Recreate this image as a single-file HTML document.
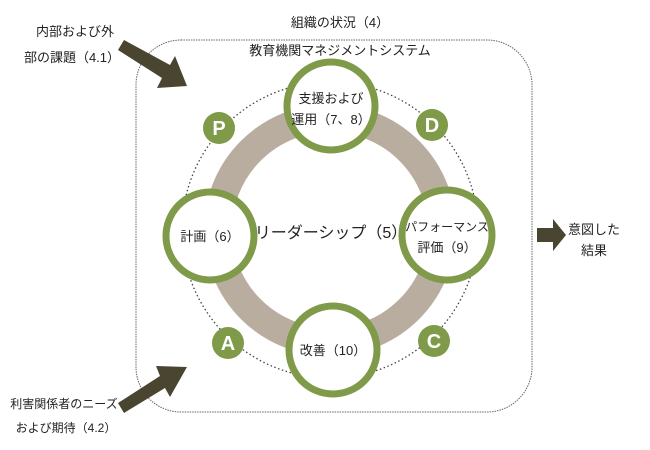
<!DOCTYPE html>
<html><head><meta charset="utf-8"><style>
body{margin:0;background:#fff;}
svg{display:block;}
text{font-family:"Liberation Sans","Noto Sans CJK JP",sans-serif;fill:#222;}
</style></head><body>
<svg width="650" height="450" viewBox="0 0 650 450">
<rect x="136" y="40" width="396" height="372" rx="45" fill="none" stroke="#666" stroke-width="1" stroke-dasharray="1.5,1"/>
<text x="340" y="27" font-size="13" text-anchor="middle">組織の状況（4）</text>
<text x="340" y="55" font-size="13" text-anchor="middle">教育機関マネジメントシステム</text>
<circle cx="330" cy="230" r="148" fill="none" stroke="#444" stroke-width="1.3" stroke-dasharray="1.5,2.5"/>
<circle cx="330" cy="230" r="112" fill="none" stroke="#b9ad9f" stroke-width="28"/>
<g fill="#fff" stroke="#7f9a48" stroke-width="7">
<circle cx="331" cy="106" r="44"/>
<circle cx="210" cy="236" r="44"/>
<circle cx="447" cy="235" r="45"/>
<circle cx="333" cy="350" r="44"/>
</g>
<g fill="#7f9a48">
<circle cx="219" cy="128" r="16"/>
<circle cx="432" cy="125" r="16"/>
<circle cx="228" cy="343" r="16"/>
<circle cx="434" cy="341" r="16"/>
</g>
<g font-size="20" font-weight="bold" text-anchor="middle">
<text x="219" y="135" style="fill:#fff">P</text>
<text x="432" y="132" style="fill:#fff">D</text>
<text x="228" y="350" style="fill:#fff">A</text>
<text x="434" y="348" style="fill:#fff">C</text>
</g>
<g font-size="13" text-anchor="middle">
<text x="331" y="103">支援および</text>
<text x="331" y="124">運用（7、8）</text>
<text x="210" y="241">計画（6）</text>
<text x="447" y="231" font-size="12">パフォーマンス</text>
<text x="447" y="252">評価（9）</text>
<text x="333" y="355">改善（10）</text>
<text x="331" y="238" font-size="16">リーダーシップ（5）</text>
<text x="75" y="36">内部および外</text>
<text x="72" y="62">部の課題（4.1）</text>
<text x="64" y="408" font-size="12">利害関係者のニーズ</text>
<text x="66" y="432" font-size="12">および期待（4.2）</text>
<text x="594" y="234">意図した</text>
<text x="594" y="255">結果</text>
</g>
<g fill="#4a4530">
<polygon points="118,50 124,40 170,65 175,56 187,86 157,88 162,78"/>
<polygon points="118,403 124,413 165,388 170,397 187,367 156,366 160,376"/>
<polygon points="537,228 553,228 553,219 566,235 553,251 553,242 537,242"/>
</g>
</svg>
</body></html>
